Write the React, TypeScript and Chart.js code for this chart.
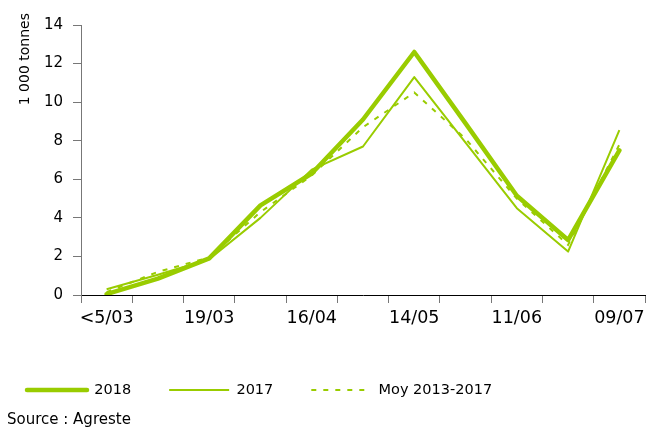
import { useEffect, useRef } from "react";
import { Chart, registerables } from "chart.js";

Chart.register(...registerables);

const categories = ["<5/03", "", "19/03", "", "16/04", "", "14/05", "", "11/06", "", "09/07"];
const values2018 = [0.05, 0.85, 1.9, 4.65, 6.3, 9.1, 12.6, 8.9, 5.15, 2.85, 7.5];
const values2017 = [0.3, 1.05, 1.85, 4.0, 6.5, 7.7, 11.3, 7.9, 4.5, 2.25, 8.55];
const valuesMoy = [0.15, 1.2, 1.95, 4.3, 6.2, 8.7, 10.5, 8.1, 5.0, 2.6, 7.8];
const seriesNames = ["2018", "2017", "Moy 2013-2017"];
const yTicks = { min: 0, max: 14, step: 2 };
const yTitle = "1 000 tonnes";
const sourceText = "Source : Agreste";

const GREEN = "#99CC00";
const FONT = "'DejaVu Sans', sans-serif";

const yTitlePlugin = {
  id: "yTitleTop",
  afterDraw(chart: any) {
    const ctx = chart.ctx;
    ctx.save();
    ctx.translate(25, chart.chartArea.top - 12);
    ctx.rotate(-Math.PI / 2);
    ctx.font = `14px ${FONT}`;
    ctx.fillStyle = "#000";
    ctx.textAlign = "right";
    ctx.textBaseline = "middle";
    ctx.fillText(yTitle, 0, 0);
    ctx.restore();
  },
};

const legendShiftPlugin = {
  id: "legendShift",
  afterLayout(chart: any) {
    if (chart.legend) {
      chart.legend.left -= 18;
      chart.legend.right -= 18;
    }
  },
};

export default function App() {
  const ref = useRef<HTMLCanvasElement | null>(null);

  useEffect(() => {
    if (!ref.current) return;
    Chart.defaults.font.family = FONT;
    const defaultGen = (Chart.defaults as any).plugins.legend.labels.generateLabels;
    const chart = new Chart(ref.current, {
      type: "line",
      data: {
        labels: categories,
        datasets: [
          {
            label: seriesNames[0],
            data: values2018,
            borderColor: GREEN,
            backgroundColor: GREEN,
            borderWidth: 4.5,
            borderCapStyle: "round",
            borderJoinStyle: "round",
            pointRadius: 0,
            fill: false,
            tension: 0,
          },
          {
            label: seriesNames[1],
            data: values2017,
            borderColor: GREEN,
            backgroundColor: GREEN,
            borderWidth: 2,
            borderJoinStyle: "round",
            pointRadius: 0,
            fill: false,
            tension: 0,
          },
          {
            label: seriesNames[2],
            data: valuesMoy,
            borderColor: GREEN,
            backgroundColor: GREEN,
            borderWidth: 2,
            borderDash: [5, 7],
            pointRadius: 0,
            fill: false,
            tension: 0,
          },
        ],
      },
      options: {
        responsive: false,
        animation: false,
        layout: { padding: { left: 7, right: 10, top: 25, bottom: 0 } },
        scales: {
          x: {
            type: "category",
            offset: true,
            grid: {
              offset: true,
              drawOnChartArea: false,
              drawTicks: true,
              tickLength: 8,
              color: "#777",
            },
            border: { display: true, color: "#000", width: 1 },
            ticks: {
              autoSkip: false,
              maxRotation: 0,
              minRotation: 0,
              padding: 5,
              color: "#000",
              font: { size: 17.5 },
            },
            afterFit(scale: any) {
              scale.height = 49.75;
            },
          },
          y: {
            min: yTicks.min,
            max: yTicks.max,
            ticks: {
              stepSize: yTicks.step,
              padding: 10,
              color: "#000",
              font: { size: 15 },
            },
            grid: { drawOnChartArea: false, tickLength: 8, color: "#777" },
            border: { display: true, color: "#777", width: 1 },
            afterFit(scale: any) {
              scale.width = 74;
            },
          },
        },
        plugins: {
          tooltip: { enabled: false },
          legend: {
            display: true,
            position: "bottom",
            align: "start",
            labels: {
              usePointStyle: true,
              pointStyle: "line",
              pointStyleWidth: 60,
              padding: 38,
              color: "#000",
              font: { size: 14.5 },
              generateLabels(c: any) {
                const items = defaultGen(c);
                items.forEach((it: any) => {
                  const ds = c.data.datasets[it.datasetIndex];
                  it.lineDash = ds.borderDash || [];
                  it.lineWidth = ds.borderWidth;
                  it.lineCap = ds.borderCapStyle || "butt";
                  it.strokeStyle = ds.borderColor;
                });
                return items;
              },
            },
          },
          title: {
            display: true,
            text: sourceText,
            position: "bottom",
            align: "start",
            color: "#000",
            font: { size: 15, weight: "normal", lineHeight: 1 },
            padding: { top: 5.75, bottom: 0 },
          },
        },
      },
      plugins: [yTitlePlugin, legendShiftPlugin],
    } as any);
    return () => chart.destroy();
  }, []);

  return (
    <div style={{ position: "fixed", left: 0, top: 0, width: 655, height: 428, background: "#fff" }}>
      <canvas ref={ref} width={655} height={428} style={{ display: "block" }} />
    </div>
  );
}
